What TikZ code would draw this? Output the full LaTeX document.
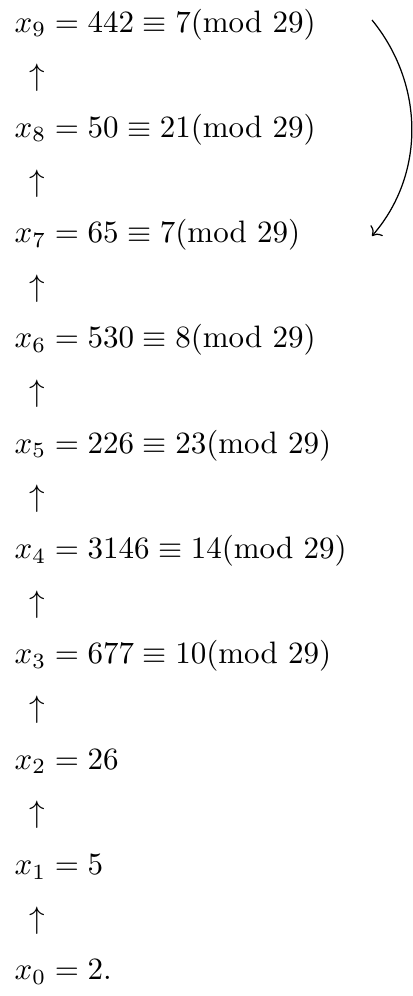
\documentclass[tikz,border=0pt]{standalone}
\usetikzlibrary{arrows.meta}
\begin{document}
\begin{tikzpicture}[x=0.3226pt,y=-0.3226pt,
  eq/.style={anchor=base west, inner sep=0pt},
  up/.style={inner sep=0pt}]
\useasboundingbox (0,0) rectangle (412,996);
\node[eq] (x9) at (14,32) {$x_9 = 442 \equiv 7(\mathrm{mod}\ 29)$};
\node[eq] (x8) at (14,137.3) {$x_8 = 50 \equiv 21(\mathrm{mod}\ 29)$};
\node[eq] (x7) at (14,242.6) {$x_7 = 65 \equiv 7(\mathrm{mod}\ 29)$};
\node[eq] (x6) at (14,347.9) {$x_6 = 530 \equiv 8(\mathrm{mod}\ 29)$};
\node[eq] (x5) at (14,453.2) {$x_5 = 226 \equiv 23(\mathrm{mod}\ 29)$};
\node[eq] (x4) at (14,558.5) {$x_4 = 3146 \equiv 14(\mathrm{mod}\ 29)$};
\node[eq] (x3) at (14,663.8) {$x_3 = 677 \equiv 10(\mathrm{mod}\ 29)$};
\node[eq] (x2) at (14,769.1) {$x_2 = 26$};
\node[eq] (x1) at (14,874.4) {$x_1 = 5$};
\node[eq] (x0) at (14,979.7) {$x_0 = 2.$};
\foreach \i/\y in {a/78,b/183.3,c/288.6,d/393.9,e/499.2,f/604.5,g/709.8,h/815.1,k/920.4}
  \node[up] (u\i) at (37,\y) {$\uparrow$};
\coordinate (cs) at (372,20);
\coordinate (ce) at (372,236);
\draw[->] (cs) .. controls (425,85) and (425,175) .. (ce);
\end{tikzpicture}
\end{document}
